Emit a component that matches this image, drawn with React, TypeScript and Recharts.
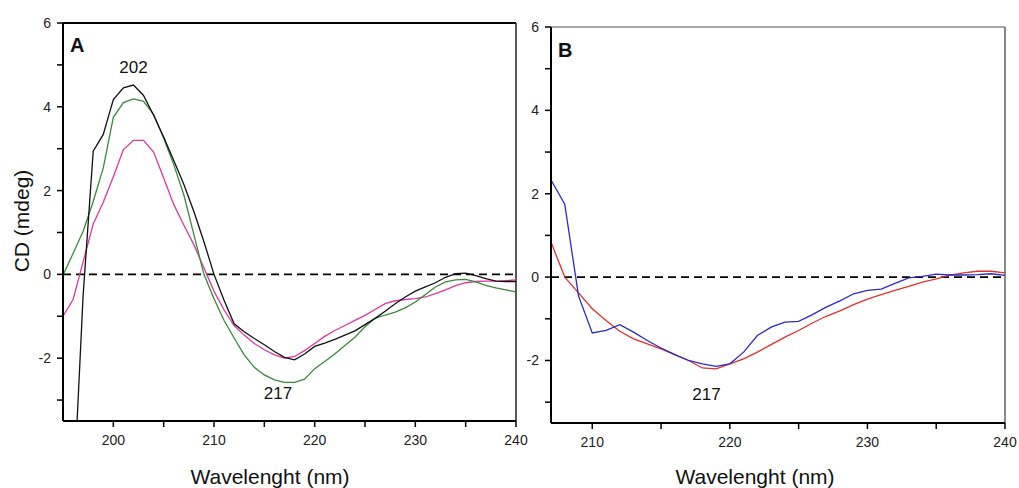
import React from "react";
import { LineChart, Line, XAxis, YAxis, ReferenceLine, ReferenceDot } from "recharts";

// panel A, 195-240 nm, 1 nm steps
const wavelengthsA = [
  195, 196, 197, 198, 199, 200, 201, 202, 203, 204, 205, 206, 207, 208, 209, 210,
  211, 212, 213, 214, 215, 216, 217, 218, 219, 220, 221, 222, 223, 224, 225, 226,
  227, 228, 229, 230, 231, 232, 233, 234, 235, 236, 237, 238, 239, 240,
];
const blackA = [
  null, -5.5, -0.5, 2.94, 3.34, 4.17, 4.45, 4.52, 4.27, 3.8, 3.28, 2.72, 2.15, 1.5, 0.78, 0.0,
  -0.62, -1.18, -1.37, -1.53, -1.68, -1.84, -1.98, -2.04, -1.9, -1.72, -1.64, -1.55, -1.45, -1.35, -1.2, -1.05,
  -0.88, -0.7, -0.54, -0.4, -0.3, -0.2, -0.07, 0.02, 0.03, -0.03, -0.1, -0.16, -0.17, -0.17,
];
const greenA = [
  -0.02, 0.5, 1.03, 1.74, 2.54, 3.75, 4.1, 4.19, 4.13, 3.82, 3.25, 2.62, 1.9, 0.95, 0.0, -0.58,
  -1.1, -1.52, -1.92, -2.22, -2.4, -2.52, -2.58, -2.58, -2.5, -2.25, -2.08, -1.9, -1.7, -1.5, -1.25, -1.05,
  -0.97, -0.9, -0.8, -0.66, -0.48, -0.3, -0.18, -0.13, -0.12, -0.18, -0.26, -0.32, -0.37, -0.42,
];
const magentaA = [
  -1.0, -0.6, 0.3, 1.2, 1.72, 2.33, 2.98, 3.2, 3.2, 2.92, 2.3, 1.67, 1.18, 0.71, 0.15, -0.4,
  -0.85, -1.22, -1.45, -1.65, -1.8, -1.92, -2.0, -1.96, -1.82, -1.65, -1.48, -1.34, -1.22, -1.1, -0.98, -0.84,
  -0.7, -0.63, -0.6, -0.58, -0.54, -0.46, -0.37, -0.27, -0.2, -0.17, -0.16, -0.16, -0.15, -0.13,
];

// panel B, 207-240 nm
const wavelengthsB = [
  207, 208, 209, 210, 211, 212, 213, 214, 215, 216, 217, 218, 219, 220, 221, 222, 223,
  224, 225, 226, 227, 228, 229, 230, 231, 232, 233, 234, 235, 236, 237, 238, 239, 240,
];
const blueB = [
  2.33, 1.75, -0.45, -1.34, -1.28, -1.14, -1.32, -1.52, -1.7, -1.86, -2.0, -2.08, -2.14, -2.08, -1.8, -1.4, -1.2,
  -1.08, -1.06, -0.9, -0.72, -0.57, -0.4, -0.32, -0.29, -0.15, -0.02, 0.02, 0.07, 0.05, 0.05, 0.06, 0.08, 0.04,
];
const redB = [
  0.84, 0.0, -0.38, -0.76, -1.04, -1.3, -1.48, -1.6, -1.72, -1.86, -2.0, -2.18, -2.2, -2.08, -1.96, -1.8, -1.62,
  -1.44, -1.28, -1.1, -0.94, -0.81, -0.66, -0.53, -0.42, -0.32, -0.22, -0.12, -0.04, 0.05, 0.1, 0.14, 0.14, 0.1,
];

const xTicksA = [200, 205, 210, 215, 220, 225, 230, 235, 240];
const xTicksB = [210, 215, 220, 225, 230, 235, 240];
const yTicks = [-3, -2, -1, 0, 1, 2, 3, 4, 5, 6];

const dataA = wavelengthsA.map((wl, i) => ({ wl, black: blackA[i], green: greenA[i], magenta: magentaA[i] }));
const dataB = wavelengthsB.map((wl, i) => ({ wl, blue: blueB[i], red: redB[i] }));

const font = "'Liberation Sans', Arial, sans-serif";
const tickStyle = { fontSize: 14, fill: "#222", fontFamily: font };
const xFmt = (v: number) => (v % 10 === 0 ? String(v) : "");
const yFmt = (v: number) => (v % 2 === 0 ? String(v) : "");

const textBase: React.CSSProperties = {
  position: "absolute",
  fontFamily: font,
  color: "#111",
  whiteSpace: "nowrap",
};

export default function App() {
  return (
    <div style={{ position: "absolute", left: 0, top: 0, width: 1019, height: 488, background: "#fff" }}>
      <div style={{ position: "absolute", left: 0, top: 0 }}>
        <LineChart width={530} height={488} data={dataA} margin={{ top: 23, right: 14, bottom: 37, left: 18 }}>
          <XAxis
            type="number"
            dataKey="wl"
            domain={[195, 240]}
            ticks={xTicksA}
            interval={0}
            tickFormatter={xFmt}
            tick={tickStyle}
            tickSize={6}
            tickMargin={8}
            height={30}
            axisLine={{ stroke: "#000", strokeWidth: 2 }}
            tickLine={{ stroke: "#000", strokeWidth: 1.5 }}
            allowDataOverflow
          />
          <YAxis
            type="number"
            domain={[-3.5, 6]}
            ticks={yTicks}
            interval={0}
            tickFormatter={yFmt}
            tick={tickStyle}
            tickSize={6}
            tickMargin={6}
            width={45}
            axisLine={{ stroke: "#000", strokeWidth: 2 }}
            tickLine={{ stroke: "#000", strokeWidth: 1.5 }}
            allowDataOverflow
          />
          <ReferenceLine y={6} stroke="#000" strokeWidth={2} />
          <ReferenceLine x={240} stroke="#222" strokeWidth={1.5} />
          <ReferenceLine y={0} stroke="#000" strokeWidth={1.6} strokeDasharray="8 5" />
          <Line type="linear" dataKey="magenta" stroke="#e0379e" strokeWidth={1.3} dot={false} isAnimationActive={false} />
          <Line type="linear" dataKey="green" stroke="#3a8a3c" strokeWidth={1.3} dot={false} isAnimationActive={false} />
          <Line type="linear" dataKey="black" stroke="#111" strokeWidth={1.3} dot={false} isAnimationActive={false} />
          <ReferenceDot x={202} y={4.96} r={0} stroke="none" fill="none"
            label={{ value: "202", position: "center", fontSize: 17, fill: "#111", fontFamily: font }} />
          <ReferenceDot x={216.35} y={-2.84} r={0} stroke="none" fill="none"
            label={{ value: "217", position: "center", fontSize: 17, fill: "#111", fontFamily: font }} />
        </LineChart>
      </div>

      <div style={{ position: "absolute", left: 520, top: 0 }}>
        <LineChart width={499} height={488} data={dataB} margin={{ top: 27, right: 14, bottom: 35, left: 0 }}>
          <XAxis
            type="number"
            dataKey="wl"
            domain={[207, 240]}
            ticks={xTicksB}
            interval={0}
            tickFormatter={xFmt}
            tick={tickStyle}
            tickSize={6}
            tickMargin={8}
            height={30}
            axisLine={{ stroke: "#000", strokeWidth: 2 }}
            tickLine={{ stroke: "#000", strokeWidth: 1.5 }}
            allowDataOverflow
          />
          <YAxis
            type="number"
            domain={[-3.5, 6]}
            ticks={yTicks}
            interval={0}
            tickFormatter={yFmt}
            tick={tickStyle}
            tickSize={6}
            tickMargin={6}
            width={31}
            axisLine={{ stroke: "#000", strokeWidth: 2 }}
            tickLine={{ stroke: "#000", strokeWidth: 1.5 }}
            allowDataOverflow
          />
          <ReferenceLine y={6} stroke="#888" strokeWidth={1.5} />
          <ReferenceLine x={240} stroke="#888" strokeWidth={2} />
          <ReferenceLine y={0} stroke="#000" strokeWidth={1.6} strokeDasharray="8 5" />
          <Line type="linear" dataKey="red" stroke="#e2302c" strokeWidth={1.3} dot={false} isAnimationActive={false} />
          <Line type="linear" dataKey="blue" stroke="#2a2acc" strokeWidth={1.3} dot={false} isAnimationActive={false} />
          <ReferenceDot x={218.3} y={-2.8} r={0} stroke="none" fill="none"
            label={{ value: "217", position: "center", fontSize: 17, fill: "#111", fontFamily: font }} />
        </LineChart>
      </div>

      <div style={{ ...textBase, left: 70, top: 35, fontSize: 20, lineHeight: "20px", fontWeight: 700 }}>A</div>
      <div style={{ ...textBase, left: 558, top: 40, fontSize: 20, lineHeight: "20px", fontWeight: 700 }}>B</div>

      <div style={{ ...textBase, left: 170, top: 466, width: 200, textAlign: "center", fontSize: 21, lineHeight: "21px" }}>
        Wavelenght (nm)
      </div>
      <div style={{ ...textBase, left: 655, top: 466, width: 200, textAlign: "center", fontSize: 21, lineHeight: "21px" }}>
        Wavelenght (nm)
      </div>
      <div
        style={{
          ...textBase,
          left: -78,
          top: 209,
          width: 200,
          height: 24,
          lineHeight: "24px",
          textAlign: "center",
          fontSize: 21,
          transform: "rotate(-90deg)",
        }}
      >
        CD (mdeg)
      </div>
    </div>
  );
}
